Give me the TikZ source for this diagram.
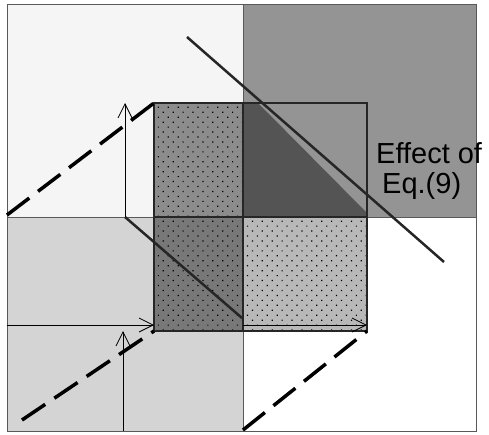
\documentclass[tikz,border=0pt]{standalone}
\usepackage{fontspec}
\setmainfont{Liberation Sans}
\usetikzlibrary{patterns,patterns.meta,arrows.meta}
\definecolor{qTL}{gray}{0.96}
\definecolor{qTR}{gray}{0.58}
\definecolor{qBL}{gray}{0.83}
\definecolor{qBR}{gray}{1.0}
\definecolor{iTL}{gray}{0.55}
\definecolor{iBL}{gray}{0.47}
\definecolor{iBR}{gray}{0.72}
\definecolor{iDark}{gray}{0.33}
\tikzset{
  frameline/.style={draw=black!65, line width=1pt},
  innerline/.style={draw=black!85, line width=2.5pt},
  dashline/.style={draw=black, line width=3.5pt, dash pattern=on 28pt off 11pt, line cap=butt},
  thinarrow/.style={draw=black, line width=0.8pt, -{Straight Barb[length=14pt,width=14pt]}},
  diagline/.style={draw=black!85, line width=2.5pt},
  dotfill/.style={pattern={Dots[radius=0.85pt,distance=7pt,angle=45]}, pattern color=black},
  lbl/.style={font=\fontsize{29}{30}\selectfont, inner sep=0pt, anchor=base west}
}
\begin{document}
\begin{tikzpicture}[x=1pt,y=-1pt]
\useasboundingbox (0,0) rectangle (489,434);
% outer quadrants
\fill[qTL] (7,4) rectangle (243,217);
\fill[qTR] (243,4) rectangle (476,217);
\fill[qBL] (7,217) rectangle (243,431);
\fill[qBR] (243,217) rectangle (476,431);
% inner quadrants
\fill[iTL] (154,103) rectangle (243,217);
\fill[iBL] (154,217) rectangle (243,331);
\fill[iBR] (243,217) rectangle (367,331);
\fill[iDark] (243,103) -- (258,103) -- (367,213) -- (367,217) -- (243,217) -- cycle;
% dots
\fill[dotfill] (154,103) rectangle (243,217);
\fill[dotfill] (154,217) rectangle (243,331);
\fill[dotfill] (243,217) rectangle (367,331);
% coordinates
\coordinate (fTL) at (7,4);
\coordinate (fBR) at (476,431);
\coordinate (cT) at (243,4);
\coordinate (cB) at (243,431);
\coordinate (cL) at (7,217);
\coordinate (cR) at (476,217);
\coordinate (iTLc) at (154,103);
\coordinate (iBRc) at (367,331);
\coordinate (iT) at (243,103);
\coordinate (iB) at (243,331);
\coordinate (iL) at (154,217);
\coordinate (iR) at (367,217);
\coordinate (iBLc) at (154,331);
% frame and centre lines
\draw[frameline] (fTL) rectangle (fBR);
\draw[frameline] (cT) -- (cB);
\draw[frameline] (cL) -- (cR);
% inner square
\draw[innerline] (iTLc) rectangle (iBRc);
\draw[innerline] (iT) -- (iB);
\draw[innerline] (iL) -- (iR);
% diagonals
\coordinate (d1a) at (187,37);
\coordinate (d1b) at (444,262);
\coordinate (d2a) at (125,217);
\coordinate (d2b) at (242,318);
\draw[diagline] (d1a) -- (d1b);
\draw[diagline] (d2a) -- (d2b);
% dashed lines
\coordinate (k1) at (7,215);
\coordinate (k2) at (22,420);
\coordinate (k3) at (243,430);
\draw[dashline] (k1) -- (iTLc);
\draw[dashline] (k2) -- (iBLc);
\draw[dashline] (k3) -- (iBRc);
% arrows
\coordinate (a1s) at (125,217);
\coordinate (a1e) at (125,103);
\coordinate (a2s) at (123,431);
\coordinate (a2e) at (123,331);
\coordinate (a3s) at (7,325);
\coordinate (a3e) at (154,325);
\coordinate (a4s) at (243,325);
\coordinate (a4e) at (367,325);
\draw[thinarrow] (a1s) -- (a1e);
\draw[thinarrow] (a2s) -- (a2e);
\draw[thinarrow] (a3s) -- (a3e);
\draw[thinarrow] (a4s) -- (a4e);
% label
\node[lbl] (t1) at (376,163) {Effect of};
\node[lbl] (t2) at (382,193) {Eq.(9)};
\end{tikzpicture}
\end{document}
